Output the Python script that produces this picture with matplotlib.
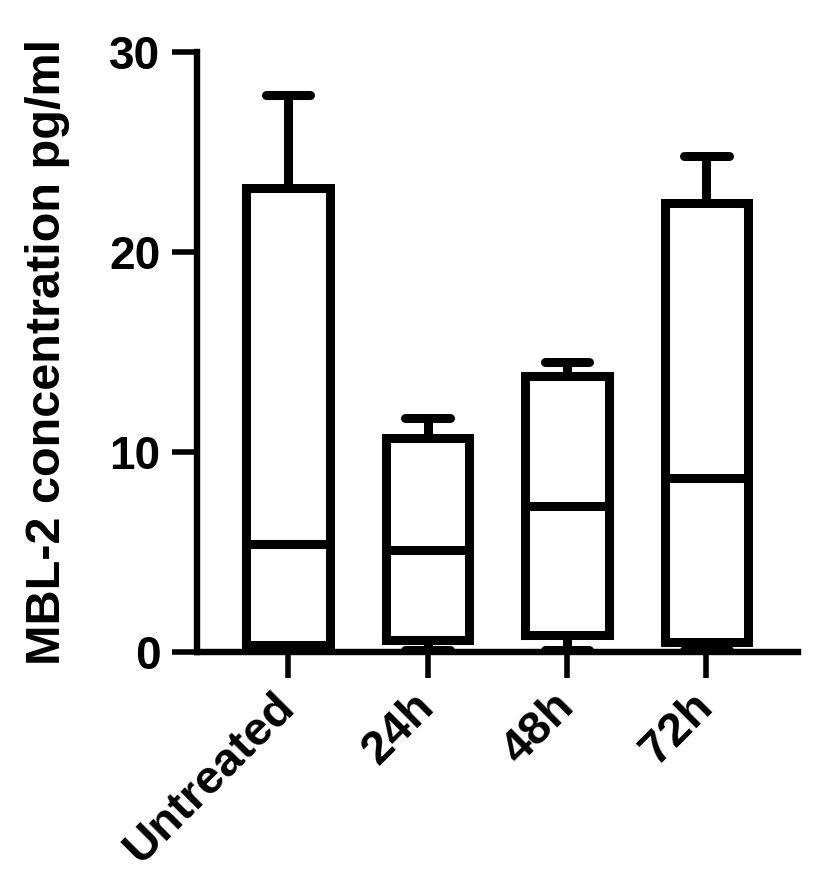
import matplotlib
matplotlib.use("Agg")
import matplotlib.pyplot as plt

plt.rcParams['font.family'] = ['Liberation Sans', 'DejaVu Sans']
plt.rcParams['font.weight'] = 'bold'

categories = ["Untreated", "24h", "48h", "72h"]
whislo = [0.0, 0.1, 0.1, 0.1]
q1 = [0.33, 0.58, 0.84, 0.51]
med = [5.4, 5.08, 7.3, 8.7]
q3 = [23.2, 10.72, 13.8, 22.47]
whishi = [27.85, 11.68, 14.52, 24.8]
yticks = [0, 10, 20, 30]

stats = []
for c, lo, a, m, b, hi in zip(categories, whislo, q1, med, q3, whishi):
    stats.append(dict(label=c, whislo=lo, q1=a, med=m, q3=b, whishi=hi, fliers=[]))

fig = plt.figure(figsize=(8.3, 8.8), dpi=100)
ax = fig.add_axes([0.237, 0.259, 0.725, 0.682])

lw = 6.5
positions = list(range(1, len(categories) + 1))
ax.bxp(stats, positions=positions, widths=0.6, capwidths=0.32, showfliers=False,
       boxprops=dict(color='black', linewidth=lw, solid_joinstyle='miter'),
       medianprops=dict(color='black', linewidth=lw, solid_capstyle='butt'),
       whiskerprops=dict(color='black', linewidth=lw, solid_capstyle='butt'),
       capprops=dict(color='black', linewidth=lw, solid_capstyle='round'))

ax.set_xlim(0.345, 4.66)
ax.set_ylim(0, 30)
ax.set_yticks(yticks)
ax.set_yticklabels([str(v) for v in yticks], fontsize=33, fontweight='bold')
ax.set_xticks(positions)
ax.set_xticklabels(categories, fontsize=34, fontweight='bold', rotation=45,
                   ha='right', va='center', rotation_mode='anchor')

for s in ['top', 'right']:
    ax.spines[s].set_visible(False)
for s in ['left', 'bottom']:
    ax.spines[s].set_linewidth(4.6)
    ax.spines[s].set_zorder(1)
ax.tick_params(axis='y', length=18, width=4.0, pad=8)
ax.tick_params(axis='x', length=18.7, width=4.0, pad=16)

ax.set_ylabel("MBL-2 concentration pg/ml", fontsize=35, fontweight='bold', labelpad=28)

fig.savefig("out.png", dpi=100)
